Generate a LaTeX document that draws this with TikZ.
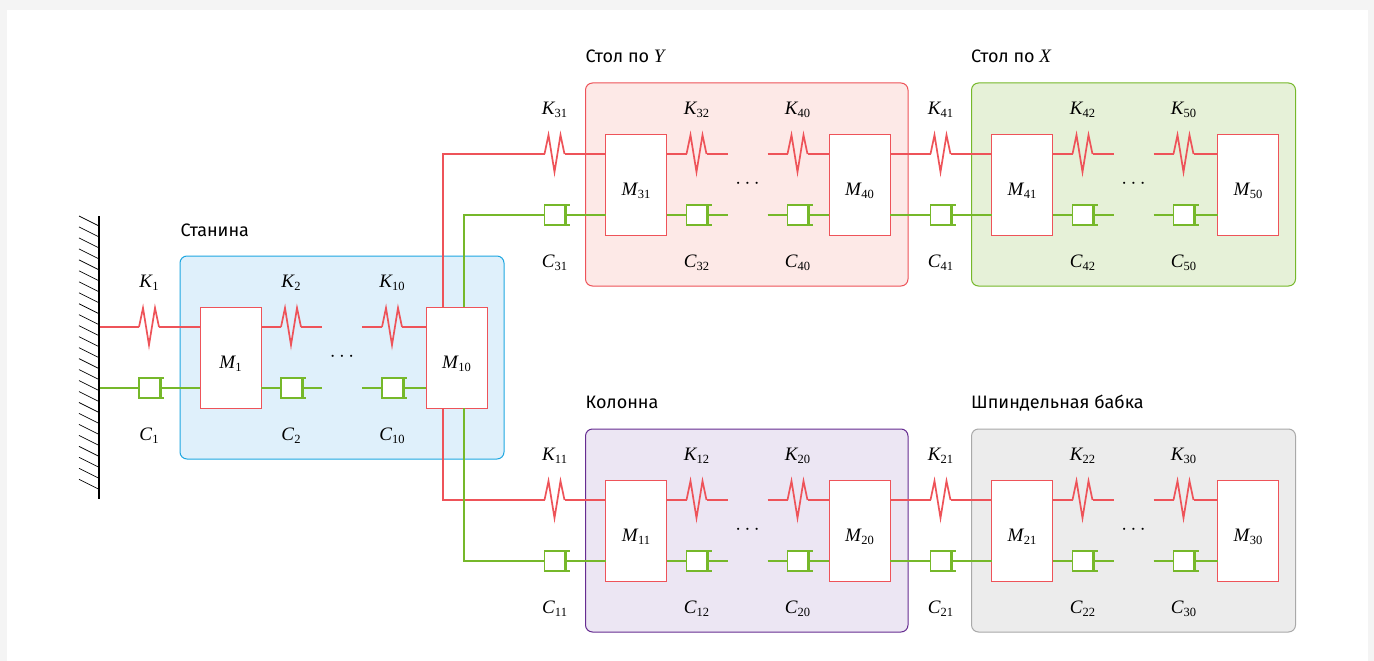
\documentclass[tikz,border=0pt]{standalone}
\usepackage{fontspec}
\setmainfont{Fira Sans}
\newfontfamily\mathserif{Liberation Serif}
\usetikzlibrary{calc}
\definecolor{wred}{HTML}{EE5359}
\definecolor{wgreen}{HTML}{76B82A}
\definecolor{pagegrey}{HTML}{F4F4F4}
\newcommand{\sym}[2]{{\mathserif\fontsize{19}{19}\selectfont\itshape #1\kern0.3pt\raisebox{-3.2pt}{\fontsize{12.5}{12.5}\selectfont\upshape #2}}}
\tikzset{
  x=1pt,y=-1pt,
  redwire/.style={draw=wred,line width=1.2pt},
  greenwire/.style={draw=wgreen,line width=1.2pt},
  massbox/.style={draw=wred,line width=1pt,fill=white,minimum width=61pt,minimum height=101pt,inner sep=0pt,outer sep=0pt},
  springnode/.style={minimum width=20pt,minimum height=0pt,inner sep=0pt,outer sep=0pt,line width=0pt},
  dampernode/.style={draw=wgreen,line width=1.3pt,fill=white,minimum width=21pt,minimum height=20pt,inner sep=0pt,outer sep=0pt},
  symlabel/.style={inner sep=0pt,anchor=center},
  title/.style={inner sep=0pt,anchor=base west,font=\fontsize{18}{20}\selectfont},
  dotsnode/.style={inner sep=0pt,font=\fontsize{21}{21}\selectfont},
  modbase/.style={rounded corners=7pt,line width=1pt,minimum height=203pt,inner sep=0pt},
  blueblock/.style={modbase,draw=HTMLblue,fill=HTMLbluef},
  redblock/.style={modbase,draw=wred,fill=HTMLredf},
  greenblock/.style={modbase,draw=wgreen,fill=HTMLgreenf},
  purpleblock/.style={modbase,draw=HTMLpurple,fill=HTMLpurplef},
  greyblock/.style={modbase,draw=HTMLgrey,fill=HTMLgreyf},
  hatchline/.style={draw=black,line width=0.7pt},
  wallline/.style={draw=black,line width=1.4pt},
  springpic/.pic={\draw[wred,line width=1.7pt] (-10,0) -- (-6,-19) -- (0,18) -- (6,-19) -- (10,0);},
}
\definecolor{HTMLblue}{HTML}{1EA7E1}
\definecolor{HTMLbluef}{HTML}{DFF0FB}
\definecolor{HTMLredf}{HTML}{FDE9E7}
\definecolor{HTMLgreenf}{HTML}{E6F1D8}
\definecolor{HTMLpurple}{HTML}{662D91}
\definecolor{HTMLpurplef}{HTML}{ECE6F3}
\definecolor{HTMLgrey}{HTML}{A9A9A9}
\definecolor{HTMLgreyf}{HTML}{ECECEC}
% spring + label
\newcommand{\springel}[4]{% name, x, y, label
  \node[springnode] (#1) at (#2,#3) {};
  \pic at (#1) {springpic};
  \node[symlabel] (#1l) at (#2,#3-44) {#4};
}
\newcommand{\damperel}[4]{%
  \node[dampernode] (#1) at (#2,#3) {};
  \draw[wgreen,line width=1.3pt] (#1.north east) -- ++(4,0) (#1.south east) -- ++(4,0);
  \draw[wgreen,line width=3pt] (#1.north east) -- (#1.south east);
  \node[symlabel] (#1l) at (#2-0.5,#3+48) {#4};
}
% module: prefix, dx, dy, block style, a, b, c, right mass shift
\newcommand{\module}[8]{%
\begin{scope}[shift={(#2,#3)}]
  \node[#4,minimum width={324pt+0.6pt*#8}] (#1box) at ({342+0.3*#8},357.5) {};
  \node[massbox] (#1ma) at (230.5,357.5) {\raisebox{-10.5pt}[0pt][0pt]{\sym{M}{#5}}};
  \node[massbox] (#1mb) at ({456.5+#8},357.5) {\raisebox{-10.5pt}[0pt][0pt]{\sym{M}{#7}}};
  \springel{#1ka}{149}{327}{\sym{K}{#5}}
  \damperel{#1ca}{149.5}{388}{\sym{C}{#5}}
  \springel{#1kb}{291}{327}{\sym{K}{#6}}
  \damperel{#1cb}{291.5}{388}{\sym{C}{#6}}
  \springel{#1kc}{392}{327}{\sym{K}{#7}}
  \damperel{#1cc}{392.5}{388}{\sym{C}{#7}}
  \coordinate (#1kbe) at (322,327);
  \coordinate (#1kcs) at (362,327);
  \coordinate (#1cbe) at (322,388);
  \coordinate (#1ccs) at (362,388);
  \node[dotsnode] (#1dots) at (342,357) {$\cdots$};
  \draw[redwire] (#1ka.east) -- (#1ma.west |- #1ka);
  \draw[greenwire] (#1ca.east) -- (#1ma.west |- #1ca);
  \draw[redwire] (#1ma.east |- #1kb) -- (#1kb.west) (#1kb.east) -- (#1kbe);
  \draw[greenwire] (#1ma.east |- #1cb) -- (#1cb.west) (#1cb.east) -- (#1cbe);
  \draw[redwire] (#1kcs) -- (#1kc.west) (#1kc.east) -- (#1mb.west |- #1kc);
  \draw[greenwire] (#1ccs) -- (#1cc.west) (#1cc.east) -- (#1mb.west |- #1cc);
\end{scope}}
\begin{document}
\begin{tikzpicture}
\useasboundingbox (0,0) rectangle (1374,661);
\fill[pagegrey] (0,0) rectangle (1374,661);
\fill[white] (7,10) rectangle (1368,661);
\module{a}{0}{0}{blueblock}{1}{2}{10}{0}
\module{b}{405.5}{-173}{redblock}{31}{32}{40}{-2.5}
\module{c}{791.5}{-173}{greenblock}{41}{42}{50}{0}
\module{d}{405.5}{173}{purpleblock}{11}{12}{20}{-2.5}
\module{e}{791.5}{173}{greyblock}{21}{22}{30}{0}
% wall
\coordinate (walltop) at (99,216);
\coordinate (wallbot) at (99,499);
\draw[redwire] (walltop |- aka) -- (aka.west);
\draw[greenwire] (walltop |- aca) -- (aca.west);
\draw[wallline] (walltop) -- (wallbot);
\foreach \k in {0,...,24}
  \draw[hatchline] ($(walltop)+(-20,10.97*\k)$) -- ($(walltop)+(0,10.97*\k+10)$);
% links
\draw[redwire] ([xshift=-13.5pt]amb.north) |- (bka.west);
\draw[greenwire] ([xshift=7.5pt]amb.north) |- (bca.west);
\draw[redwire] ([xshift=-13.5pt]amb.south) |- (dka.west);
\draw[greenwire] ([xshift=7.5pt]amb.south) |- (dca.west);
\draw[redwire] (bmb.east |- cka) -- (cka.west);
\draw[greenwire] (bmb.east |- cca) -- (cca.west);
\draw[redwire] (dmb.east |- eka) -- (eka.west);
\draw[greenwire] (dmb.east |- eca) -- (eca.west);
% titles
\node[title] (t1) at (180.5,236) {Станина};
\node[title] (t2) at (585.5,63) {Стол по {\mathserif\itshape\fontsize{19}{19}\selectfont Y}};
\node[title] (t3) at (971,63) {Стол по {\mathserif\itshape\fontsize{19}{19}\selectfont X}};
\node[title] (t4) at (585.5,408) {Колонна};
\node[title] (t5) at (971,408) {Шпиндельная бабка};
\end{tikzpicture}
\end{document}
